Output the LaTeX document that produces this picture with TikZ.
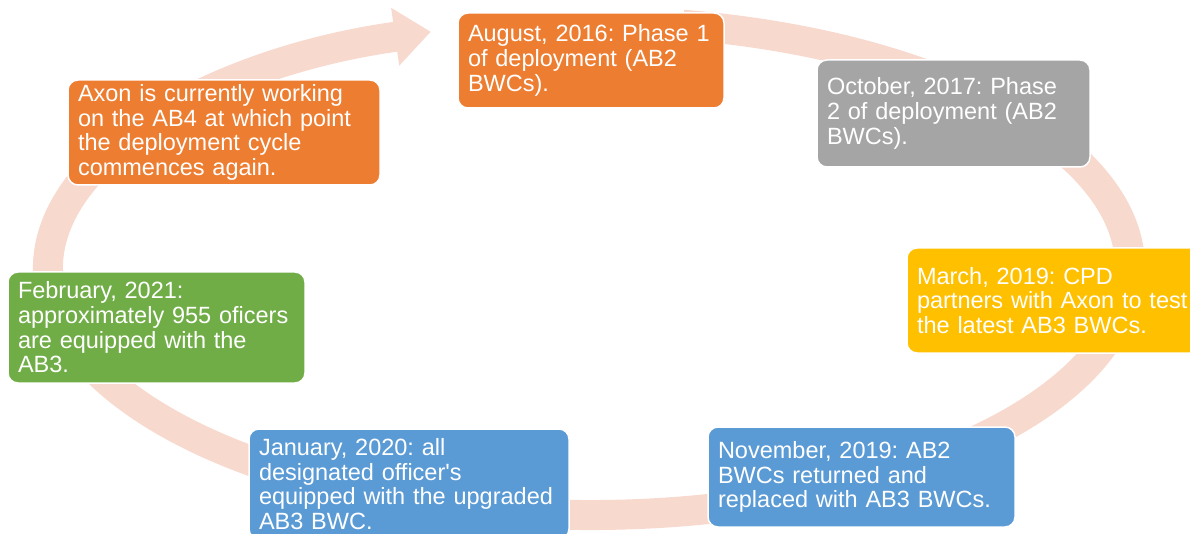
\documentclass[tikz,border=0pt]{standalone}
\usepackage{fontspec}
\setmainfont{Liberation Sans}
\usepackage{tikz}
\usetikzlibrary{positioning}
\usetikzlibrary{arrows.meta}

\definecolor{phaseorange}{HTML}{ED7D31}
\definecolor{phasegrey}{HTML}{A5A5A5}
\definecolor{phasegold}{HTML}{FFC000}
\definecolor{phaseblue}{HTML}{5B9BD5}
\definecolor{phasegreen}{HTML}{70AD47}
\definecolor{cyclering}{HTML}{F8D9CE}

\hyphenpenalty=10000
\exhyphenpenalty=10000

\begin{document}
\begin{tikzpicture}[x=1pt,y=1pt,
  phase/.style={draw=white, line width=1.5pt, rounded corners=10pt, text=white,
    align=left, inner xsep=10pt, inner ysep=0pt,
    font=\fontsize{23.5}{24.7}\selectfont\frenchspacing},
  ring/.style={draw=cyclering, line width=30pt}]
\clip (0,0) rectangle (1190,533);
\useasboundingbox (0,0) rectangle (1190,533);

% the cycle arrow behind the boxes
\draw[ring, -{Triangle[width=56pt,length=36pt]}]
  (589,265) ++(80:541pt and 247pt)
  arc[start angle=80, end angle=-253, x radius=541pt, y radius=247pt];

\node[phase, fill=phaseorange, text width=246pt, minimum height=95pt] (aug) at (591,472.5) {
August, 2016: Phase 1\\
of deployment (AB2\\
BWCs).
};
\node[phase, fill=phasegrey, text width=253pt, minimum height=107pt] (oct) at (953.5,419.5) {
October, 2017: Phase\\
2 of deployment (AB2\\
BWCs).
};
\node[phase, fill=phasegold, text width=283pt, minimum height=105pt] (mar) at (1058.5,232.5) {
March, 2019: CPD\\
partners with Axon to test\\
the latest AB3 BWCs.
};
\node[phase, fill=phaseblue, text width=287pt, minimum height=100pt] (nov) at (861.5,56) {
November, 2019: AB2\\
BWCs returned and\\
replaced with AB3 BWCs.
};
\node[phase, fill=phaseblue, text width=300pt, minimum height=110pt] (jan) at (409,49) {
January, 2020: all\\
designated officer\textquotesingle s\\
equipped with the upgraded\\
AB3 BWC.
};
\node[phase, fill=phasegreen, text width=277pt, minimum height=111pt] (feb) at (156.5,205.5) {
February, 2021:\\
approximately 955 oficers\\
are equipped with the\\
AB3.
};
\node[phase, fill=phaseorange, text width=292pt, minimum height=105pt] (axon) at (224,400.5) {
Axon is currently working\\
on the AB4 at which point\\
the deployment cycle\\
commences again.
};
\end{tikzpicture}
\end{document}
